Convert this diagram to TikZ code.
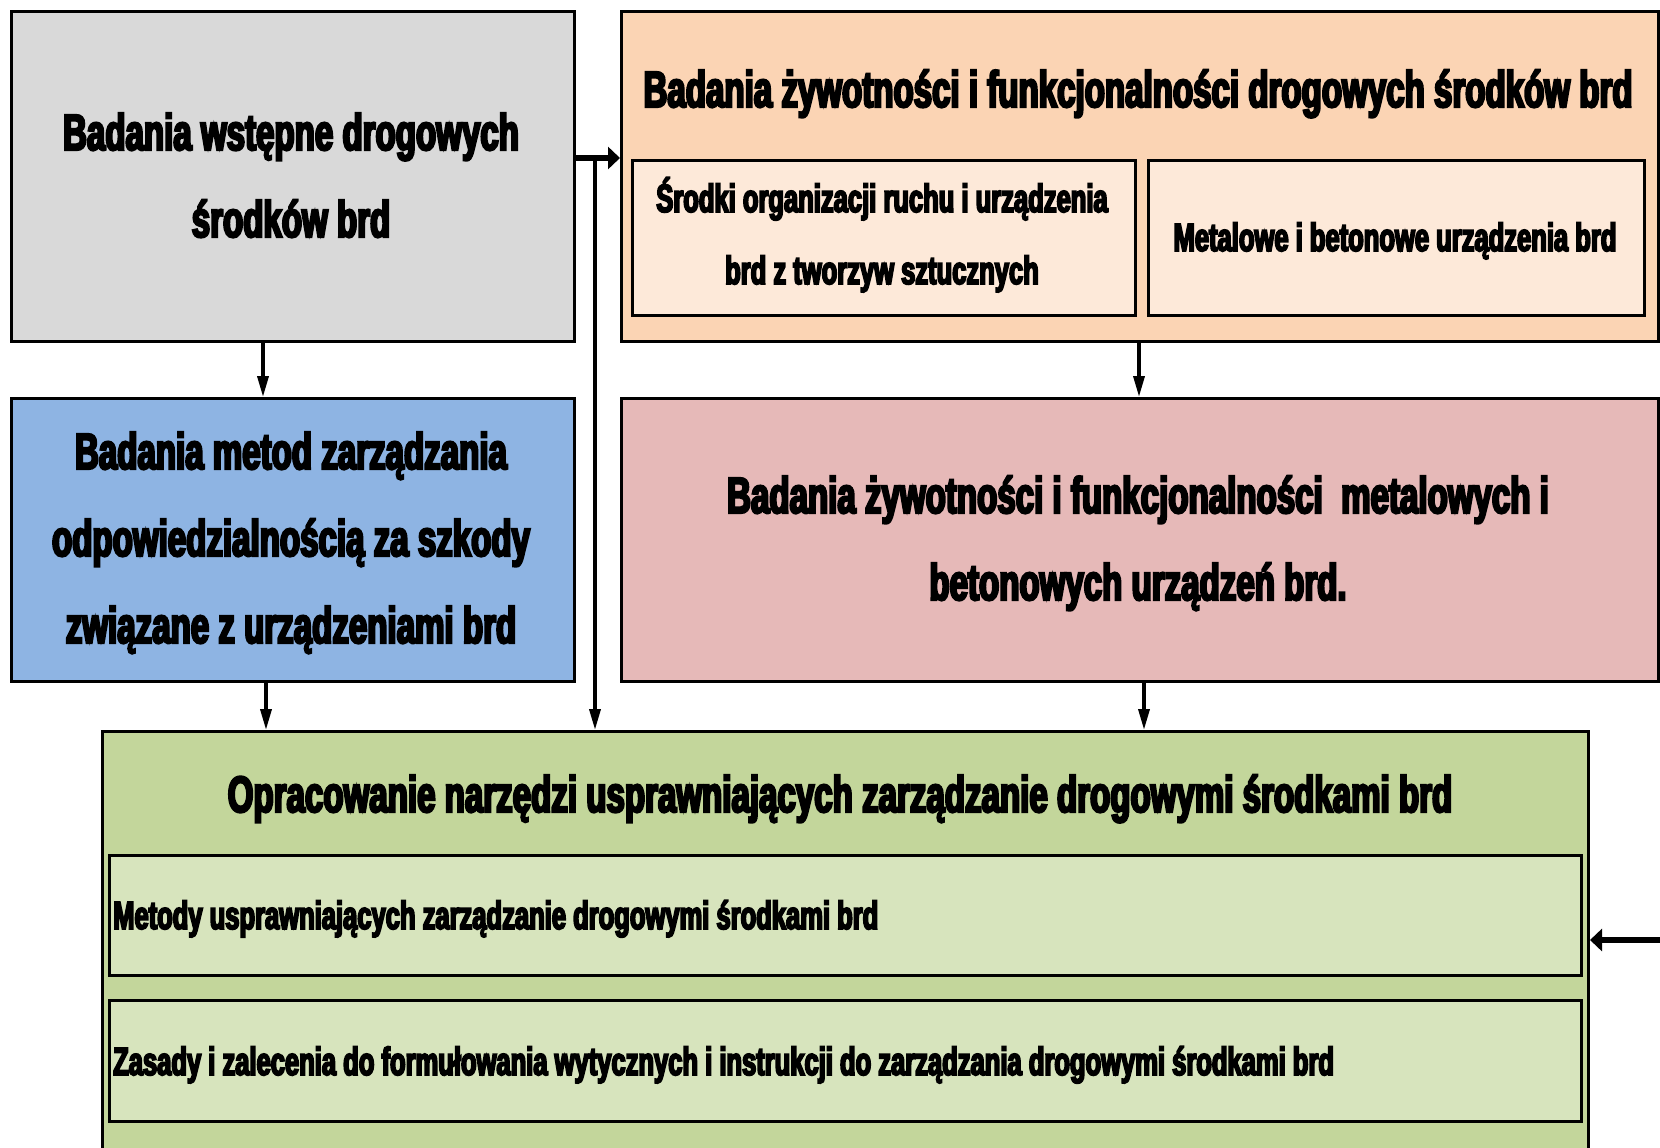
\documentclass[tikz,border=0pt]{standalone}
\usepackage{fontspec}
\setmainfont{Liberation Sans}
\newfontfamily\cond{Liberation Sans}[FakeStretch=0.65, BoldFeatures={FakeBold=4.5}]
\usetikzlibrary{arrows.meta}

\definecolor{boxgray}{HTML}{D9D9D9}
\definecolor{peach}{HTML}{FBD4B4}
\definecolor{peachlight}{HTML}{FDE9D9}
\definecolor{skyblue}{HTML}{8EB4E3}
\definecolor{rosepink}{HTML}{E6B9B8}
\definecolor{olive}{HTML}{C3D69B}
\definecolor{olivelight}{HTML}{D7E4BD}

\begin{document}
\begin{tikzpicture}[x=1pt,y=-1pt,
  box/.style={draw=black, line width=3pt, inner sep=0pt, anchor=north west, align=center},
  subbox/.style={draw=black, line width=2.5pt, inner sep=0pt, anchor=north west, align=center},
  bigtext/.style={font={\cond\bfseries\fontsize{50.9}{87}\selectfont}},
  midtext/.style={font={\cond\bfseries\fontsize{39.3}{72}\selectfont}},
  thinarrow/.style={line width=3.5pt, -{Triangle[length=21pt,width=11pt]}},
  thickarrow/.style={line width=6.5pt, -{Triangle[length=12pt,width=22pt]}},
]
\useasboundingbox (0,0) rectangle (1660,1148);
\clip (0,0) rectangle (1660,1148);
\fill[white] (0,0) rectangle (1660,1148);

% upper row (multi-line labels are placed by the baseline of their last line)
\node[box, fill=boxgray, minimum width=563pt, minimum height=330pt] (prelim) at (10,10) {};
\node[bigtext, align=center, anchor=base] (prelimtext) at (291,237)
  {Badania wstępne drogowych\\środków brd};
\node[box, fill=peach, minimum width=1037pt, minimum height=330pt] (life) at (620,10) {};
\node[bigtext, anchor=base] (lifetitle) at (1138,107)
  {Badania żywotności i funkcjonalności drogowych środków brd};
\node[subbox, fill=peachlight, minimum width=503pt, minimum height=155pt] (plastic) at (631,159) {};
\node[midtext, align=center, anchor=base] (plastictext) at (882,284)
  {Środki organizacji ruchu i urządzenia\\brd z tworzyw sztucznych};
\node[subbox, fill=peachlight, minimum width=496pt, minimum height=155pt] (metal) at (1147,159) {};
\node[midtext, anchor=base] (metaltext) at (1395,251)
  {Metalowe i betonowe urządzenia brd};

% middle row
\node[box, fill=skyblue, minimum width=563pt, minimum height=283pt] (liab) at (10,397) {};
\node[bigtext, align=center, anchor=base] (liabtext) at (291,643)
  {Badania metod zarządzania\\odpowiedzialnością za szkody\\związane z urządzeniami brd};
\node[box, fill=rosepink, minimum width=1037pt, minimum height=283pt] (metlife) at (620,397) {};
\node[bigtext, align=center, anchor=base] (metlifetext) at (1138,600)
  {Badania żywotności i funkcjonalności\ \ metalowych i\\betonowych urządzeń brd.};

% lower block
\node[box, fill=olive, minimum width=1486pt, minimum height=440pt] (tools) at (101,730) {};
\node[bigtext, anchor=base] (toolstitle) at (840,812)
  {Opracowanie narzędzi usprawniających zarządzanie drogowymi środkami brd};
\node[subbox, fill=olivelight, minimum width=1472pt, minimum height=120pt] (methods) at (108,854) {};
\node[midtext, anchor=base west, inner sep=0pt] (methodstext) at (113,929)
  {Metody usprawniających zarządzanie drogowymi środkami brd};
\node[subbox, fill=olivelight, minimum width=1472pt, minimum height=121pt] (rules) at (108,999) {};
\node[midtext, anchor=base west, inner sep=0pt] (rulestext) at (113,1075)
  {Zasady i zalecenia do formułowania wytycznych i instrukcji do zarządzania drogowymi środkami brd};

% connectors
\coordinate (split) at (595,158);
\coordinate (outR) at (1664,158);
\coordinate (inR) at (1664,940);

\draw[thickarrow] ([yshift=-148pt]prelim.north east) -- ([yshift=-148pt]life.north west);
\draw[line width=6.5pt] ([yshift=-148pt]life.north east) -- (outR);
\draw[thinarrow] (split) -- (split |- tools.north);
\draw[thinarrow] ([xshift=253pt]prelim.south west) -- ([xshift=253pt]liab.north west);
\draw[thinarrow] ([xshift=519pt]life.south west) -- ([xshift=519pt]metlife.north west);
\draw[thinarrow] ([xshift=256pt]liab.south west) -- ([xshift=256pt]liab.south west |- tools.north);
\draw[thinarrow] ([xshift=524pt]metlife.south west) -- ([xshift=524pt]metlife.south west |- tools.north);
\draw[thickarrow] (inR) -- (inR -| tools.east);
\end{tikzpicture}
\end{document}
